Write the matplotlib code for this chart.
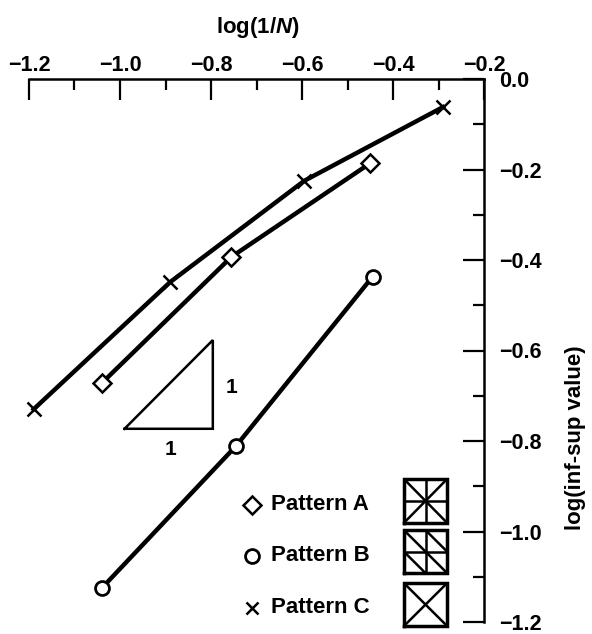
import matplotlib
matplotlib.use("Agg")
import matplotlib.pyplot as plt

plt.rcParams['font.family'] = ['Liberation Sans', 'DejaVu Sans']
plt.rcParams['font.weight'] = 'bold'
plt.rcParams['axes.labelweight'] = 'bold'
plt.rcParams['mathtext.fontset'] = 'custom'
plt.rcParams['mathtext.rm'] = 'Liberation Sans:bold'
plt.rcParams['mathtext.it'] = 'Liberation Sans:italic:bold'

# ---- data ----
series_names = ["Pattern A", "Pattern B", "Pattern C"]
a_x = [-1.04, -0.755, -0.45]
a_y = [-0.672, -0.393, -0.186]
b_x = [-1.04, -0.745, -0.445]
b_y = [-1.125, -0.811, -0.437]
c_x = [-1.19, -0.89, -0.595, -0.29]
c_y = [-0.73, -0.449, -0.225, -0.062]

x_ticks = [-1.2, -1.0, -0.8, -0.6, -0.4, -0.2]
y_ticks = [0.0, -0.2, -0.4, -0.6, -0.8, -1.0, -1.2]

fig = plt.figure(figsize=(5.92, 6.34), dpi=100)
ax = fig.add_axes([29/592, 1-622/634, 455/592, 543/634])

LW = 3.2
ax.plot(c_x, c_y, color='black', lw=LW, marker='x', ms=9.5, mew=1.8, zorder=3, clip_on=False)
ax.plot(a_x, a_y, color='black', lw=LW, marker='D', ms=9.5, mew=1.8, mfc='white', zorder=4, clip_on=False)
ax.plot(b_x, b_y, color='black', lw=LW, marker='o', ms=10, mew=2.0, mfc='white', zorder=4, clip_on=False)

ax.set_xlim(-1.2, -0.2)
ax.set_ylim(-1.2, 0.0)

for s in ['left', 'bottom']:
    ax.spines[s].set_visible(False)
for s in ['top', 'right']:
    ax.spines[s].set_linewidth(1.8)

ax.xaxis.set_ticks_position('top')
ax.yaxis.set_ticks_position('right')
ax.set_xticks(x_ticks)
ax.set_yticks(y_ticks)
ax.set_xticks([-1.1, -0.9, -0.7, -0.5, -0.3], minor=True)
ax.set_yticks([-0.1, -0.3, -0.5, -0.7, -0.9, -1.1], minor=True)
ax.set_xticklabels([f"{v:.1f}".replace('-', '\u2212') for v in x_ticks])
ax.set_yticklabels([f"{v:.1f}".replace('-', '\u2212') if v != 0 else "0.0" for v in y_ticks])
ax.tick_params(which='major', direction='in', length=15, width=1.6, labelsize=15.5)
ax.tick_params(which='minor', direction='in', length=8, width=1.6)
ax.tick_params(axis='x', which='major', pad=2)
ax.tick_params(axis='y', which='major', pad=11)

ax.xaxis.set_label_position('top')
ax.set_xlabel("log(1/$N$)", fontsize=16, fontweight='bold')
ax.xaxis.label.set_va('center')
ax.xaxis.set_label_coords(0.503, 1.094)
ax.yaxis.set_label_position('right')
ax.set_ylabel("log(inf-sup value)", fontsize=16, rotation=90, fontweight='bold')
ax.yaxis.label.set_va('center')
ax.yaxis.label.set_ha('center')
ax.yaxis.set_label_coords(1.202, 0.34)

# slope triangle annotation
tri_x = [-0.99, -0.796, -0.796, -0.99]
tri_y = [-0.773, -0.773, -0.577, -0.773]
ax.plot(tri_x, tri_y, color='black', lw=1.8, solid_joinstyle='miter')
ax.text(-0.89, -0.818, "1", fontsize=15, ha='center', va='center')
ax.text(-0.754, -0.681, "1", fontsize=15, ha='center', va='center')

# legend (manual)
leg_y = [-0.941, -1.054, -1.169]
leg_markers = [dict(marker='D', ms=9.5, mew=1.8, mfc='white'),
               dict(marker='o', ms=10, mew=2.0, mfc='white'),
               dict(marker='x', ms=8, mew=1.8)]
for name, yy, mk in zip(series_names, leg_y, leg_markers):
    ax.plot([-0.71], [yy], color='black', ls='none', clip_on=False, **mk)
    ax.text(-0.668, yy, name, fontsize=16, ha='left', va='center')

# pattern icons
bx0, bx1 = -0.376, -0.281
icon_boxes = [(-0.981, -0.884), (-1.092, -0.997), (-1.209, -1.114)]

def L(xs, ys, lw=1.8):
    ax.plot(xs, ys, color='black', lw=lw, clip_on=False, solid_capstyle='butt')

for i, (y0, y1) in enumerate(icon_boxes):
    xm, ym = (bx0 + bx1) / 2, (y0 + y1) / 2
    if i == 0:
        L([bx0, bx1], [y1, y0]); L([bx0, bx1], [y0, y1])
        L([xm, xm], [y0, y1]); L([bx0, bx1], [ym, ym])
    elif i == 1:
        L([xm, xm], [y0, y1]); L([bx0, bx1], [ym, ym])
        L([bx0, xm], [y1, ym]); L([xm, bx1], [y1, ym])
        L([bx0, xm], [ym, y0]); L([xm, bx1], [ym, y0])
    else:
        L([bx0, bx1], [y1, y0]); L([bx0, bx1], [y0, y1])
    ax.plot([bx0, bx1, bx1, bx0, bx0], [y0, y0, y1, y1, y0], color='black',
            lw=2.5, clip_on=False, solid_joinstyle='miter')

fig.savefig("out.png", dpi=100)
